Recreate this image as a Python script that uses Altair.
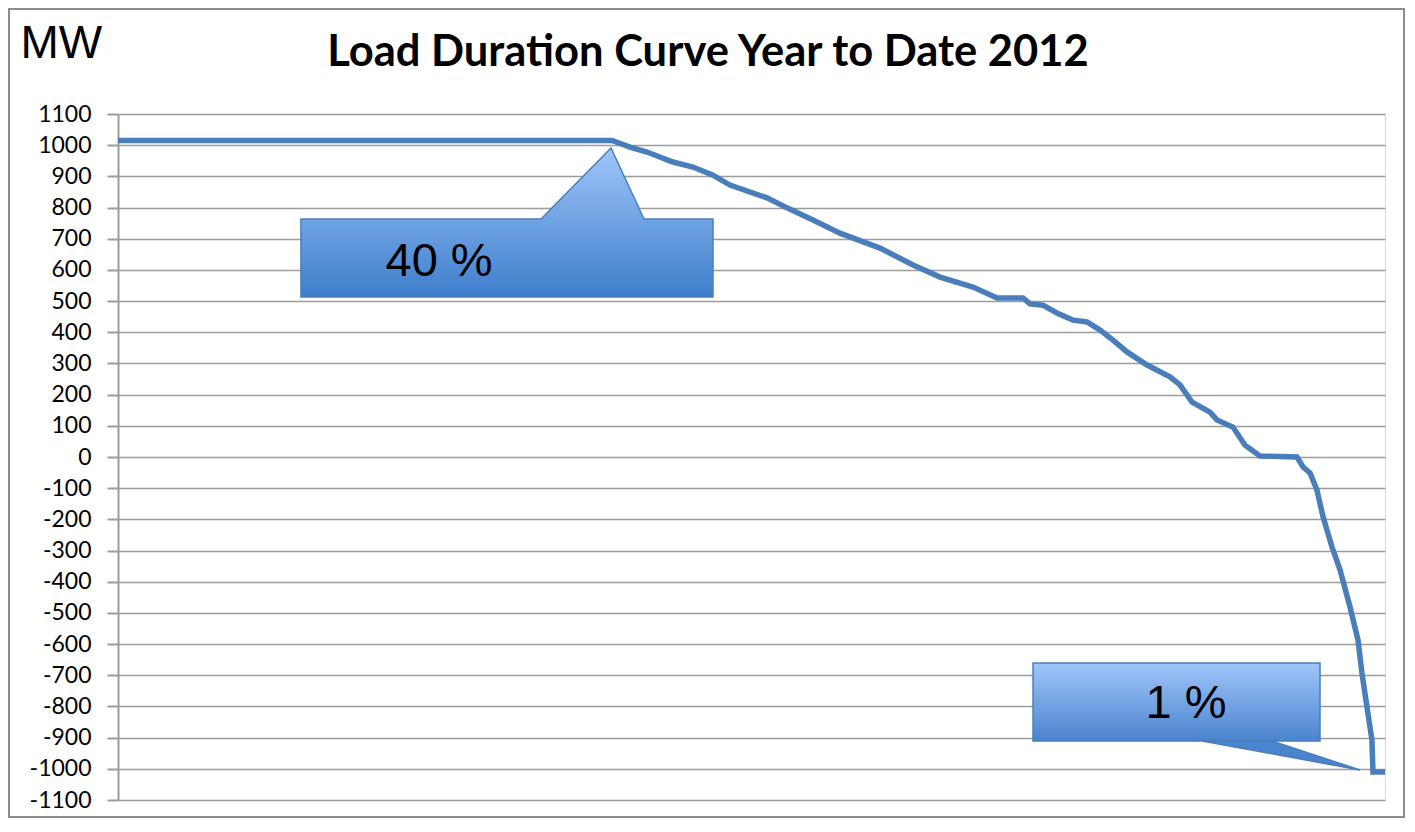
import altair as alt
import pandas as pd

# Load duration curve: share of time (%) vs MW
pct = [0.0, 38.99, 40.41, 41.75, 43.80, 45.38, 46.96, 48.30, 51.22, 52.80, 54.85,
       56.98, 60.14, 62.75, 64.88, 67.48, 69.38, 71.43, 71.98, 73.01, 74.11,
       75.37, 76.48, 77.51, 78.53, 79.64, 81.22, 83.03, 83.82, 84.77, 86.19,
       86.74, 88.00, 88.95, 90.13, 93.05, 93.53, 94.08, 94.63, 95.11, 95.82,
       96.45, 97.24, 97.87, 98.18, 98.58, 98.97, 99.05, 100.0]
mw = [1015, 1015, 994, 978, 946, 930, 904, 872, 831, 799, 760,
      718, 670, 616, 577, 545, 510, 510, 491, 487, 462,
      439, 433, 407, 375, 337, 295, 257, 231, 176, 144,
      119, 96, 38, 3, 0, -32, -51, -106, -192, -289,
      -362, -481, -587, -693, -802, -908, -1010, -1010]

y_ticks = list(range(-1100, 1101, 100))

# Callout "40 %" (box with pointer up to the knee of the curve)
c40_x = [14.44, 33.39, 38.91, 41.52, 46.96]
c40_top = [763, 763, 991, 763, 763]
c40_bottom = [513, 513, 513, 513, 513]

# Callout "1 %" box and pointer
c1_box_x = [72.22]
c1_box_x2 = [94.87]
c1_box_top = [-660.6]
c1_box_bottom = [-910.8]
c1_ptr_x = [85.56, 91.08, 98.03]
c1_ptr_top = [-910.8, -910.8, -1003.8]
c1_ptr_bottom = [-910.8, -951.8, -1003.8]

label_x = [25.34, 84.29]
label_y = [624, -792]
label_text = ["40 %", "1 %"]

title_text = "Load Duration Curve Year to Date 2012"

curve = pd.DataFrame({"x": pct, "y": mw})
c40 = pd.DataFrame({"x": c40_x, "y": c40_top, "y2": c40_bottom})
c1box = pd.DataFrame({"x": c1_box_x, "x2": c1_box_x2, "y": c1_box_top, "y2": c1_box_bottom})
c1ptr = pd.DataFrame({"x": c1_ptr_x, "y": c1_ptr_top, "y2": c1_ptr_bottom})
labels = pd.DataFrame({"x": label_x, "y": label_y, "t": label_text})
one = pd.DataFrame({"a": [0]})

xscale = alt.Scale(domain=[0, 100], nice=False, zero=False)
yscale = alt.Scale(domain=[-1100, 1100], nice=False, zero=False)
grey = "#9c9c9c"
yaxis = alt.Axis(
    values=y_ticks, title="MW", titleAngle=0, titleAlign="left",
    titleBaseline="alphabetic", titleX=-98, titleY=-57,
    titleFont="Liberation Sans", titleFontSize=46, titleFontWeight="normal",
    titleColor="#000000",
    labelFont="Lato", labelFontSize=23, labelColor="#000000",
    labelPadding=16, labelExpr="'' + datum.value",
    tickSize=11, tickColor=grey, tickWidth=2,
    domainColor=grey, domainWidth=2,
    gridColor=grey, gridWidth=1.7,
)


def X(f):
    return alt.X(f"{f}:Q", scale=xscale, axis=None)


def Y(f):
    return alt.Y(f"{f}:Q", scale=yscale, axis=yaxis)


border = alt.Chart(one).mark_rect(fillOpacity=0, stroke="#8c8c8c", strokeWidth=2).encode(
    x=alt.value(-109), x2=alt.value(1286), y=alt.value(-105), y2=alt.value(703)
)

line = alt.Chart(curve).mark_line(color="#4A7EBB", strokeWidth=5.5).encode(
    x=X("x"), y=Y("y")
)

grad = alt.Gradient(
    gradient="linear",
    stops=[alt.GradientStop(color="#A0C6FA", offset=0),
           alt.GradientStop(color="#3E7ECB", offset=1)],
    x1=0, x2=0, y1=0, y2=1,
)

callout40 = alt.Chart(c40).mark_area(
    color=grad, stroke="#4A7EBB", strokeWidth=1.5, interpolate="linear"
).encode(x=X("x"), y=Y("y"), y2="y2")

grad2 = alt.Gradient(
    gradient="linear",
    stops=[alt.GradientStop(color="#A0C6FA", offset=0),
           alt.GradientStop(color="#4A83CE", offset=1)],
    x1=0, x2=0, y1=0, y2=1,
)

c1_box = alt.Chart(c1box).mark_rect(color=grad2, stroke="#4A7EBB", strokeWidth=1.5).encode(
    x=X("x"), x2="x2", y=Y("y"), y2="y2"
)

c1_ptr = alt.Chart(c1ptr).mark_area(
    color="#4A83CE", stroke="#4A7EBB", strokeWidth=1.5, interpolate="linear"
).encode(x=X("x"), y=Y("y"), y2="y2")

label_marks = alt.Chart(labels).mark_text(
    font="Liberation Sans", fontSize=47, color="#000000", align="center", baseline="middle"
).encode(x=X("x"), y=Y("y"), text="t:N")

title = alt.Chart(one).mark_text(
    text=title_text, font="Lato", fontSize=43.5, fontWeight="bold", color="#000000",
    align="center", baseline="middle"
).encode(x=alt.value(590), y=alt.value(-61))

chart = alt.layer(border, line, callout40, c1_ptr, c1_box, label_marks, title).properties(
    width=1267, height=686,
    autosize=alt.AutoSizeParams(type="none"),
    padding={"left": 110, "top": 106, "right": 20, "bottom": 18},
).configure_view(strokeWidth=0).configure(background="white")

chart.save("out.html", embed_options={"renderer": "svg", "actions": False})
